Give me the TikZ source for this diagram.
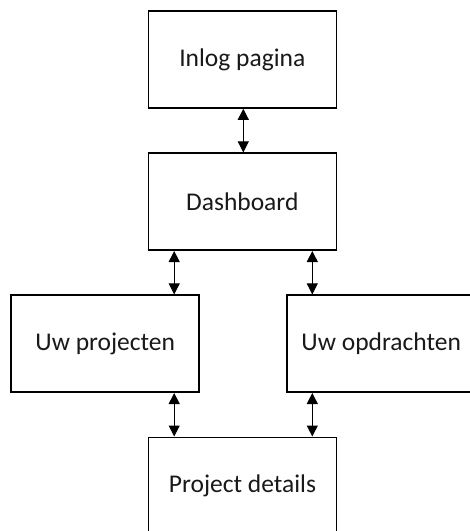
\documentclass[tikz,border=0pt]{standalone}
\usepackage{fontspec}
\setmainfont{Carlito}
\usetikzlibrary{arrows.meta}
\begin{document}
\begin{tikzpicture}[x=1pt,y=-1pt,
  box/.style={draw=black,line width=1.6pt,minimum width=188pt,minimum height=97pt,inner sep=0pt,font=\fontsize{25.5}{30}\selectfont,text=black!90},
  link/.style={line width=1pt,{Triangle[width=11pt,length=11pt]}-{Triangle[width=11pt,length=11pt]}}]
\useasboundingbox (0,0) rectangle (470,531);
\clip (0,0) rectangle (470,531);
\node[box] (inlog) at (242.3,59.5) {Inlog pagina};
\node[box] (dash) at (242.3,201.7) {Dashboard};
\node[box] (proj) at (105.2,343.7) {Uw projecten};
\node[box] (opdr) at (381.2,343.7) {Uw opdrachten};
\node[box] (det) at (242.5,485.8) {Project details};
\coordinate (cm) at (243.3,0);
\coordinate (cl) at (174.2,0);
\coordinate (cr) at (312.3,0);
\draw[link] (inlog.south -| cm) -- (dash.north -| cm);
\draw[link] (dash.south -| cl) -- (proj.north -| cl);
\draw[link] (dash.south -| cr) -- (opdr.north -| cr);
\draw[link] (proj.south -| cl) -- (det.north -| cl);
\draw[link] (opdr.south -| cr) -- (det.north -| cr);
\end{tikzpicture}
\end{document}
